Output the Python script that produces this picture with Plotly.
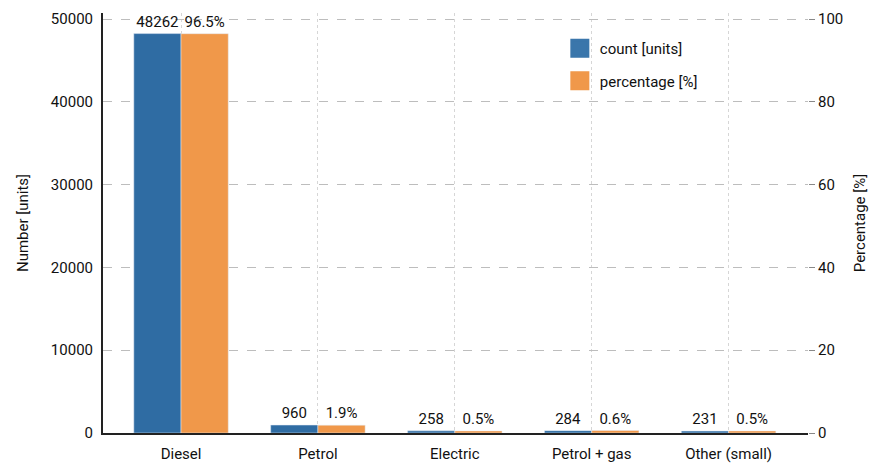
import plotly.graph_objects as go

categories = ["Diesel", "Petrol", "Electric", "Petrol + gas", "Other (small)"]
counts = [48262, 960, 258, 284, 231]
percentages = [96.5, 1.9, 0.5, 0.6, 0.5]
count_labels = [str(c) for c in counts]
pct_labels = [f"{p}%" for p in percentages]
left_ticks = [0, 10000, 20000, 30000, 40000, 50000]
right_ticks = [0, 20, 40, 60, 80, 100]

BLUE = "#2f6ca3"
ORANGE = "#f0984a"
FONT = "Roboto"
FS = 15

fig = go.Figure()
fig.add_trace(go.Bar(
    x=categories, y=counts, name="count [units]", marker_color=BLUE,
    offsetgroup="a", yaxis="y", text=count_labels, textposition="outside",
    constraintext="none",
    cliponaxis=False, textfont=dict(size=FS, color="#111"), showlegend=False,
))
fig.add_trace(go.Bar(
    x=categories, y=percentages, name="percentage [%]", marker_color=ORANGE,
    offsetgroup="b", yaxis="y2", text=pct_labels, textposition="outside",
    constraintext="none",
    cliponaxis=False, textfont=dict(size=FS, color="#111"), showlegend=False,
))
# legend entries with large square swatches
for i, (name, col) in enumerate([("count [units]", "#3a76ab"), ("percentage [%]", ORANGE)]):
    fig.add_trace(go.Scatter(
        x=[None], y=[None], mode="markers", name=name, legendgroup=f"g{i}",
        marker=dict(symbol="square", size=20, color=col, line=dict(color=col, width=3)),
    ))

fig.update_layout(
    width=869, height=465,
    margin=dict(l=103, r=61, t=13, b=32, autoexpand=False),
    paper_bgcolor="white", plot_bgcolor="white",
    font=dict(family=FONT, size=FS, color="#111"),
    barmode="group", bargap=0.31, bargroupgap=0,
    showlegend=True,
    legend=dict(x=0.648, y=0.955, xanchor="left", yanchor="top",
                bgcolor="rgba(0,0,0,0)", font=dict(size=FS),
                itemsizing="trace", tracegroupgap=10),
    xaxis=dict(
        range=[-0.57, 4.58], showline=True, linecolor="#222", linewidth=2,
        showgrid=True, gridcolor="#d6d6d6", griddash="dot", gridwidth=1,
        ticks="", tickfont=dict(size=FS), ticklabelstandoff=6, automargin=False,
    ),
    yaxis=dict(
        range=[0, 50750], tickvals=left_ticks, ticktext=[str(t) for t in left_ticks],
        showline=True, linecolor="#222", linewidth=2, automargin=False,
        showgrid=True, gridcolor="#bdbdbd", griddash="dash", gridwidth=1,
        ticks="", tickfont=dict(size=FS), zeroline=False, ticklabelstandoff=5,
        title=dict(text="Number [units]", font=dict(size=FS), standoff=19),
    ),
    yaxis2=dict(
        range=[0, 101.5], tickvals=right_ticks, ticktext=[str(t) for t in right_ticks],
        overlaying="y", side="right", showline=False, showgrid=False, automargin=False,
        ticks="outside", ticklen=6, tickcolor="#888", zeroline=False,
        tickfont=dict(size=FS),
        title=dict(text="Percentage [%]", font=dict(size=FS), standoff=17),
    ),
)

fig.write_html("out.html")
